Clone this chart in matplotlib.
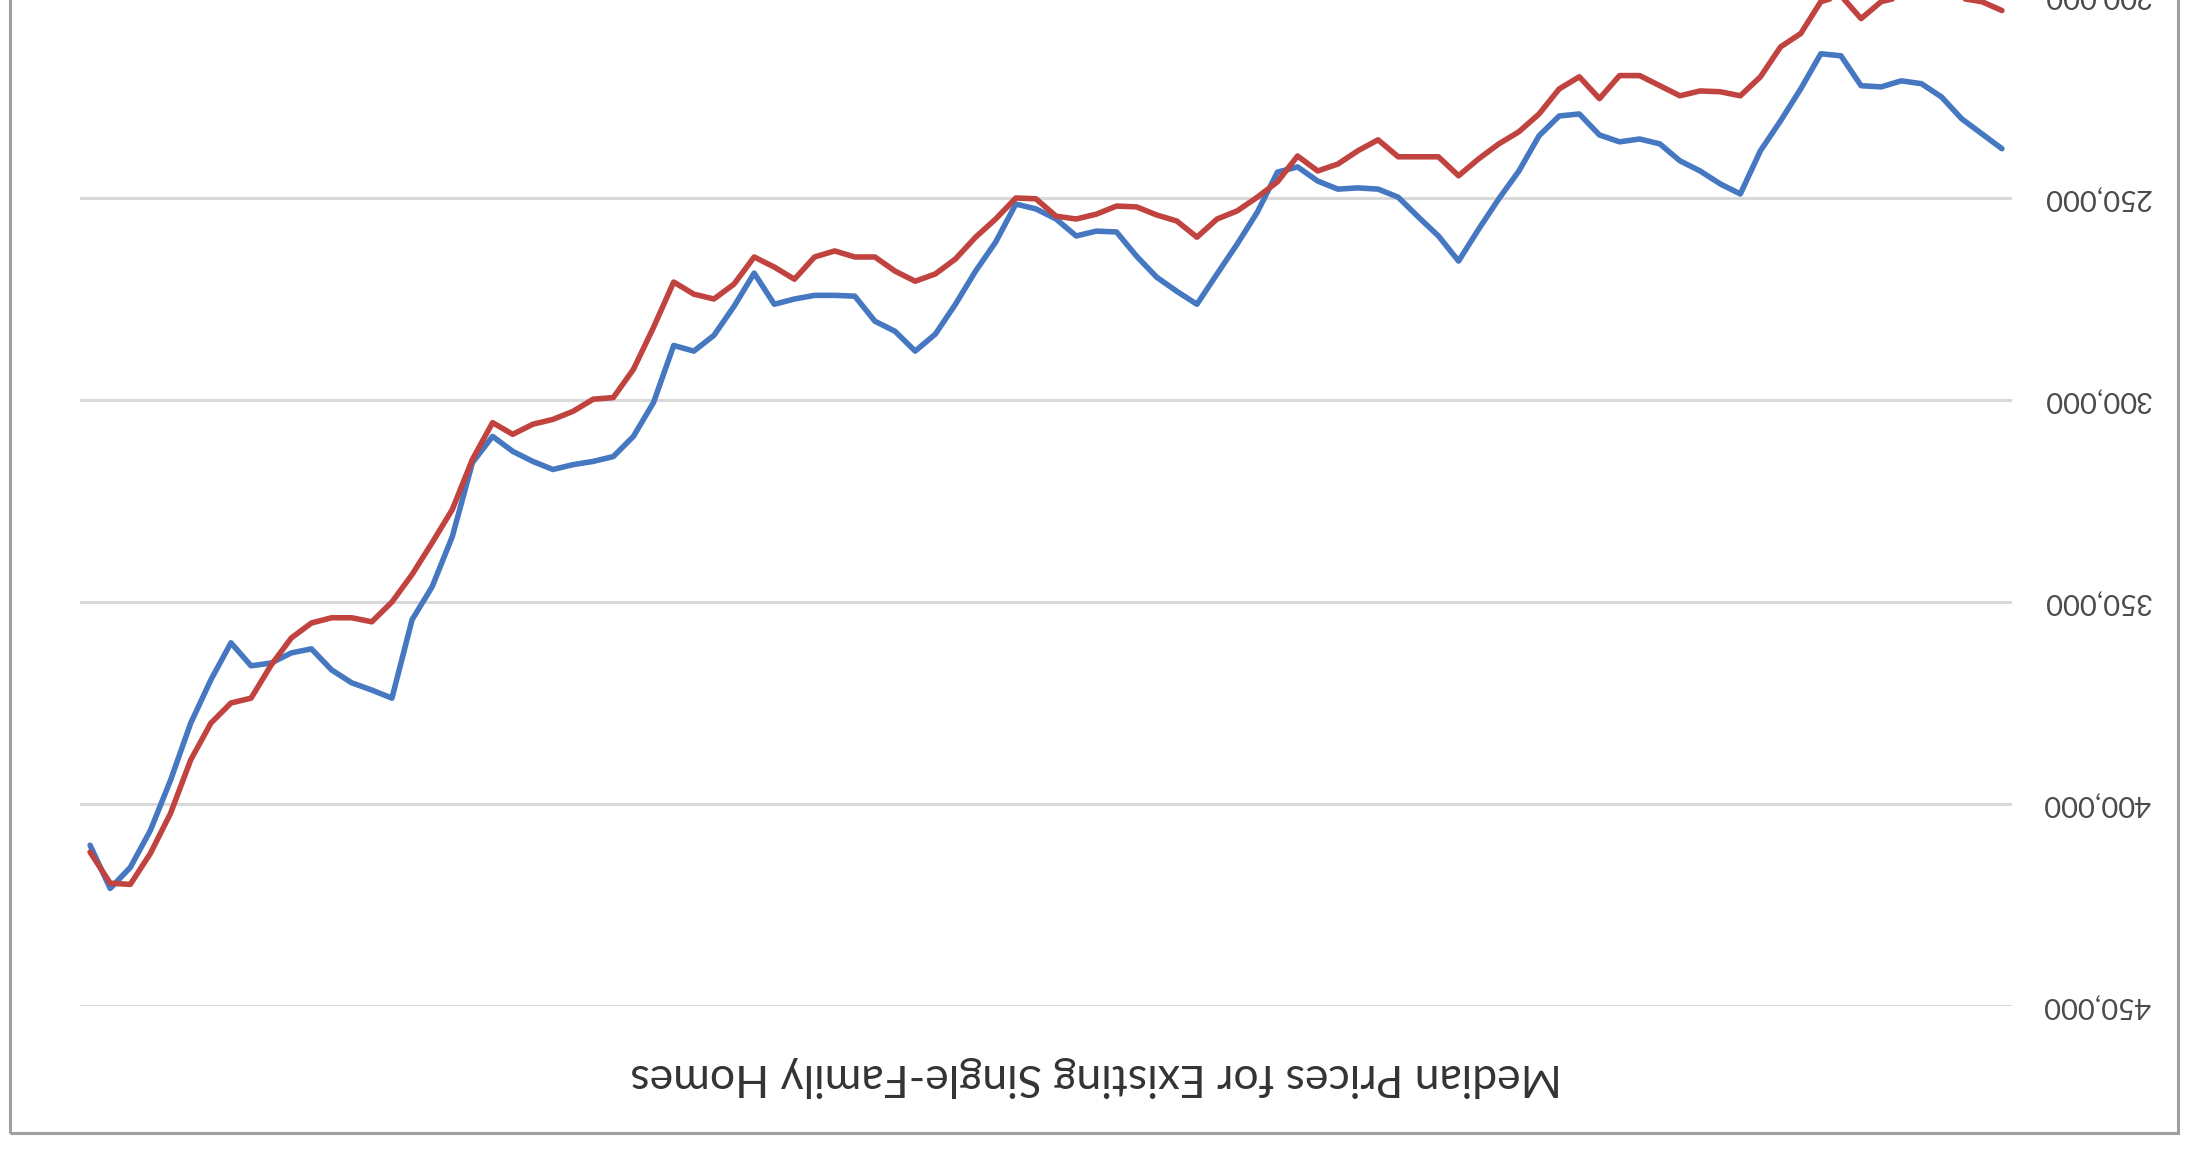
import numpy as np
import matplotlib
matplotlib.use("Agg")
import matplotlib.pyplot as plt
from matplotlib.patches import Rectangle
from matplotlib.ticker import FuncFormatter

# Median prices, monthly, oldest first (chart is shown rotated 180 degrees)
blue_prices = [
    237800, 234100, 230400, 225000, 221700, 221000, 222500, 222200, 214800, 214300,
    223000, 230900, 238300, 249000, 246500, 243300, 240800, 236600, 235400, 236100,
    234400, 229200, 229700, 234600, 243300, 250200, 257700, 265600, 259400, 254700,
    249800, 247800, 247500, 247800, 245800, 242300, 243600, 253500, 261400, 268800,
    276300, 273100, 269600, 264400, 258400, 258200, 259400, 255200, 252700, 251500,
    260900, 268100, 276300, 283700, 287900, 283000, 280500, 274300, 274100, 274100,
    275000, 276300, 268600, 276800, 284000, 287900, 286500, 300600, 309000, 314000,
    315200, 316000, 317200, 315200, 312700, 309000, 315500, 333800, 346200, 354400,
    373800, 371800, 370000, 366800, 361600, 362600, 365100, 365800, 360100, 369300,
    380000, 394100, 406500, 415700, 420900, 410200,
]
red_prices = [
    203600, 201400, 200600, 200600, 200200, 200200, 201400, 205600, 199900, 201400,
    209300, 212600, 220000, 224700, 223700, 223500, 224700, 222200, 219700, 219700,
    225400, 220000, 223000, 229200, 233600, 236600, 240300, 244500, 239800, 239800,
    239800, 235600, 238300, 241600, 243300, 239600, 246000, 249800, 253200, 255200,
    259700, 255700, 254200, 252200, 252000, 254000, 255200, 254500, 250200, 250000,
    255200, 259700, 265100, 268800, 270600, 268100, 264600, 264600, 263100, 264600,
    270100, 267100, 264600, 271300, 275000, 273800, 270800, 282000, 292400, 299400,
    299800, 302800, 304800, 306000, 308500, 305600, 314700, 327100, 335300, 343200,
    350000, 354900, 353900, 353900, 355200, 358900, 365600, 373800, 375000, 380000,
    389100, 402300, 412200, 419900, 419600, 411900,
]
y_ticks = [200000, 250000, 300000, 350000, 400000, 450000]
title = "Median Prices for Existing Single-Family Homes"

months = np.arange(len(blue_prices))

fig = plt.figure(figsize=(21.94, 11.58), dpi=100)
fig.patch.set_facecolor("white")

# plot area; top edge (200,000) sits just above the picture
ax = fig.add_axes([80 / 2194, 152 / 1158, 1932 / 2194, 1010 / 1158])
ax.plot(months, blue_prices, color="#4677C1", lw=4.0, solid_joinstyle="round",
        solid_capstyle="round", zorder=3)
ax.plot(months, red_prices, color="#C0433F", lw=4.0, solid_joinstyle="round",
        solid_capstyle="round", zorder=4)

# rotated view: both axes reversed
ax.set_xlim(len(months) - 0.5, -0.5)
ax.set_ylim(450000, 200000)
ax.set_yticks(y_ticks)
ax.yaxis.set_major_formatter(FuncFormatter(lambda v, p: f"{int(v):,}"))
ax.yaxis.tick_right()
ax.tick_params(axis="y", length=0, pad=22, labelsize=21, labelcolor="#4A4A4A")
for lab in ax.get_yticklabels():
    lab.set_rotation(180)
    lab.set_verticalalignment("center")
    lab.set_fontfamily("Lato")
ax.set_xticks([])
ax.grid(axis="y", color="#D9D9D9", lw=2.2)
ax.set_axisbelow(True)
for s in ax.spines.values():
    s.set_visible(False)

# chart area border
fig.add_artist(Rectangle((10 / 2194, (1158 - 1133) / 1158), 2168 / 2194, 1.2,
                         transform=fig.transFigure, fill=False,
                         edgecolor="#A0A0A0", lw=2.2))

fig.text(1096 / 2194, (1158 - 1077) / 1158, title, rotation=180,
         ha="center", va="center", fontsize=32, color="#333333", family="Lato")

fig.savefig("out.png", dpi=100)
